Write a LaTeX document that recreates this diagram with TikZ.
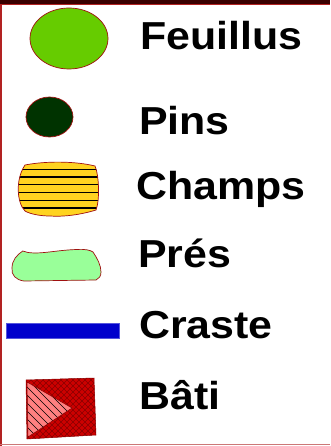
\documentclass[tikz,border=0pt]{standalone}
\usepackage{fontspec}
\setmainfont{Liberation Sans}
\definecolor{FrameDark}{HTML}{3A0000}
\definecolor{FrameRed}{HTML}{B22222}
\definecolor{FrameLight}{HTML}{CC7777}
\definecolor{EdgeRed}{HTML}{A01010}
\definecolor{LeafGreen}{HTML}{66CC00}
\definecolor{PineGreen}{HTML}{003300}
\definecolor{FieldGold}{HTML}{FFD320}
\definecolor{MeadowGreen}{HTML}{99FF99}
\definecolor{DitchBlue}{HTML}{0000CC}
\definecolor{DitchEdge}{HTML}{5555DD}
\definecolor{BuiltRed}{HTML}{CC0000}
\definecolor{BuiltHatch}{HTML}{8A0000}
\definecolor{BuiltPink}{HTML}{FF8080}
\usepackage{tikz}

\tikzset{
  legtext/.style={anchor=base west, inner sep=0pt,
    font=\fontsize{39}{41}\selectfont\bfseries},
  zone/.style={draw=EdgeRed, line width=0.7pt},
}
\newcommand{\wide}[1]{\scalebox{1.1}[1]{#1}}

\begin{document}
\begin{tikzpicture}[x=1pt, y=-1pt]
  \useasboundingbox (0,0) rectangle (330,446);
  \fill[white] (0,0) rectangle (330,446);
  % frame
  \fill[FrameDark] (0,0) rectangle (330,4);
  \draw[FrameRed, line width=1.2pt] (0,4.6) -- (330,4.6);
  \draw[FrameRed, line width=1.6pt] (0.8,4) -- (0.8,446);
  \draw[FrameLight, line width=1.4pt] (0,444.6) -- (330,444.6);

  % symbols
  \draw[zone, fill=LeafGreen] (69,38.5) ellipse [x radius=39pt, y radius=30.5pt];
  \draw[zone, fill=PineGreen] (49.5,117) ellipse [x radius=23.5pt, y radius=20pt];

  \def\champs{(25,165) .. controls (45,161) and (75,161) .. (95,166)
    .. controls (99,175) and (100,200) .. (96,210)
    .. controls (80,215) and (62,217) .. (50,216)
    .. controls (40,216) and (30,214) .. (25,211)
    .. controls (17,203) and (15,180) .. (25,165) -- cycle}
  \fill[FieldGold] \champs;
  \begin{scope}
    \clip \champs;
    \foreach \y in {169.3,176.9,184.6,192.4,200.2,208.1}
      \draw[black, line width=1.3pt] (10,\y) -- (110,\y);
  \end{scope}
  \draw[zone] \champs;

  \draw[zone, fill=MeadowGreen] (22.7,251) .. controls (35,256) and (55,250) .. (77,249.5)
    .. controls (85,249) and (90,250) .. (93,252)
    .. controls (97,258) and (101,265) .. (101,272)
    .. controls (101,276) and (99,279) .. (96,280) -- (24,281)
    .. controls (16,280) and (11,275) .. (12,268)
    .. controls (12,260) and (17,255) .. (22.7,251) -- cycle;

  \draw[DitchEdge, fill=DitchBlue, line width=0.6pt] (6,323) rectangle (119,338);

  % bati
  \def\bati{(26,380) -- (94,378) -- (96,435) -- (27,439) -- cycle}
  \def\coin{(27,382) -- (72,408) -- (28,437) -- cycle}
  \fill[BuiltRed] \bati;
  \begin{scope}
    \clip \bati;
    \foreach \d in {-90,-84,...,90} {
      \draw[BuiltHatch, line width=0.6pt] (26+\d,375) -- ++(70,70);
      \draw[BuiltHatch, line width=0.6pt] (96+\d,375) -- ++(-70,70);
    }
  \end{scope}
  \draw[BuiltHatch, line width=0.5pt] \bati;
  \fill[BuiltPink] \coin;
  \begin{scope}
    \clip \coin;
    \foreach \d in {-60,-52,...,40}
      \draw[black, line width=0.6pt] (27+\d,375) -- ++(80,80);
  \end{scope}
  \draw[BuiltHatch, line width=0.5pt] \coin;

  % labels
  \node[legtext] (feuillus) at (140,50) {\wide{Feuillus}};
  \node[legtext] (pins) at (139,135) {\wide{Pins}};
  \node[legtext] (champs) at (136,199) {\wide{Champs}};
  \node[legtext] (pres) at (138,267) {\wide{Prés}};
  \node[legtext] (craste) at (139,338) {\wide{Craste}};
  \node[legtext] (bati) at (139,409) {\wide{Bâti}};
\end{tikzpicture}
\end{document}
